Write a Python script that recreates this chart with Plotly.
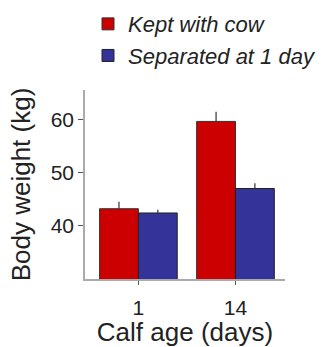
import plotly.graph_objects as go

ages = ["1", "14"]
kept = [43.2, 59.6]
kept_err = [1.3, 1.8]
separated = [42.4, 47.0]
separated_err = [0.6, 1.0]

fig = go.Figure()
fig.add_trace(go.Bar(
    x=ages, y=kept, name="Kept with cow",
    marker=dict(color="#cc0000", line=dict(color="#333333", width=1)),
    error_y=dict(type="data", array=kept_err, arrayminus=[0, 0], symmetric=False,
                 color="#333333", thickness=1.2, width=0),
))
fig.add_trace(go.Bar(
    x=ages, y=separated, name="Separated at 1 day",
    marker=dict(color="#333399", line=dict(color="#222222", width=1)),
    error_y=dict(type="data", array=separated_err, arrayminus=[0, 0], symmetric=False,
                 color="#333333", thickness=1.2, width=0),
))

fig.update_layout(
    width=322, height=347,
    margin=dict(l=85, r=37, t=90, b=68, autoexpand=False),
    paper_bgcolor="white", plot_bgcolor="white",
    barmode="group", bargap=0.2, bargroupgap=0,
    font=dict(family="Liberation Sans, Arial, sans-serif", color="#222222"),
    showlegend=True,
    legend=dict(
        x=0.015, y=1.46, xanchor="left", yanchor="top",
        font=dict(size=22, style="italic", color="#222222"),
        bgcolor="rgba(0,0,0,0)", itemwidth=30, tracegroupgap=0,
    ),
    xaxis=dict(
        range=[-0.55, 1.51],
        showline=True, linecolor="#aaaaaa", linewidth=1.5,
        ticks="outside", ticklen=4, tickcolor="#555555",
        ticklabelstandoff=5,
        tickfont=dict(size=21),
        title=dict(text="Calf age (days)", font=dict(size=26), standoff=2),
        mirror=False,
    ),
    yaxis=dict(
        range=[30, 65.5], showline=True, linecolor="#aaaaaa", linewidth=1.5,
        showgrid=False, zeroline=False,
        tickvals=[40, 50, 60], ticks="outside", ticklen=5, tickcolor="#555555",
        tickfont=dict(size=21),
        title=dict(text="Body weight (kg)", font=dict(size=26), standoff=13),
    ),
)

fig.write_html("out.html", config={"displayModeBar": False},
               post_script="document.body.style.margin='0';")
